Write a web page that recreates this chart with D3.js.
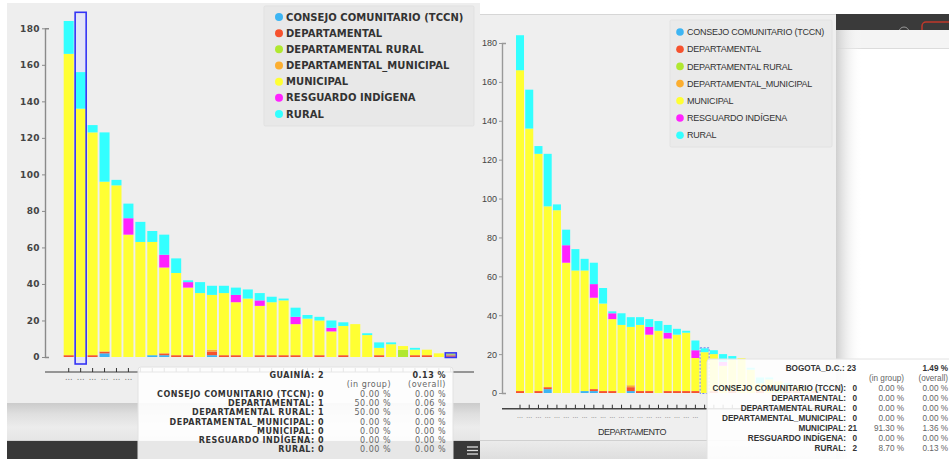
<!DOCTYPE html>
<html><head><meta charset="utf-8">
<script src="https://cdn.jsdelivr.net/npm/d3@7/dist/d3.min.js"></script>
<style>html,body{margin:0;padding:0;background:#fff;overflow:hidden}svg{display:block}</style>
</head><body>
<svg id="chart" width="949" height="459"></svg>
<script>
// ---------------- DATA ----------------
const categories = ["DEP_01","DEP_02","DEP_03","DEP_04","DEP_05","DEP_06","DEP_07","DEP_08","DEP_09","DEP_10",
  "DEP_11","DEP_12","DEP_13","DEP_14","DEP_15","DEP_16","DEP_17","DEP_18","DEP_19","DEP_20",
  "BOGOTA_D.C.","DEP_22","DEP_23","DEP_24","DEP_25","DEP_26","DEP_27","DEP_28","DEP_29","DEP_30",
  "DEP_31","DEP_32","GUAINÍA"];
const seriesNames = ["CONSEJO COMUNITARIO (TCCN)","DEPARTAMENTAL","DEPARTAMENTAL RURAL","DEPARTAMENTAL_MUNICIPAL","MUNICIPAL","RESGUARDO INDÍGENA","RURAL"];
const seriesColors = ["#3db5f3","#f6522e","#b0e830","#fcae30","#ffff33","#ff22ff","#33ffff"];
const tccn         = [0,0,0,2,0,0,0,1,1,0,0,0,1,0,0,0,0,0,0,0,0,0,0,0,0,0,0,0,0,0,0,0,0];
const departamental= [1,0,1,1,0,0,0,0,1,1,1,0,2,1,1,0,1,1,1,1,0,1,0,1,0,0,1,0,0,1,1,0,1];
const depRural     = [0,0,0,0,0,0,0,0,0,0,0,0,0,0,0,0,0,0,0,0,0,0,0,0,0,0,0,0,4,0,0,0,1];
const depMunicipal = [0,0,0,0,0,0,0,0,0,0,0,0,1,0,0,0,0,0,0,0,0,0,0,0,0,0,0,0,0,0,0,0,0];
const municipal    = [165,136,122,93,94,67,63,62,47,45,37,35,30,34,29,32,27,29,30,17,21,19,14,16,18,12,4,7,2,3,3,2,0];
const resguardo    = [0,0,0,0,0,9,0,0,7,0,3,0,0,0,4,0,3,0,0,4,0,0,2,0,0,0,0,0,0,0,0,0,0];
const rural        = [18,20,4,27,3,8,11,6,11,8,1,6,5,4,4,5,4,3,1,5,2,2,4,2,0,1,3,1,0,1,0,0,0];
const yTicks = [0,20,40,60,80,100,120,140,160,180];
const xTickLabel = "...";
const selectedColumn = "DEP_02";
const hoverLeft = "GUAINÍA";
const hoverRight = "BOGOTA_D.C.";

// ---------------- TABLE ----------------
const seriesValues = [tccn, departamental, depRural, depMunicipal, municipal, resguardo, rural];
const table = categories.map((c, i) => {
  const row = {cat: c};
  seriesNames.forEach((s, j) => row[s] = seriesValues[j][i]);
  row.total = seriesNames.reduce((a, s) => a + row[s], 0);
  return row;
});
const grandTotal = d3.sum(table, d => d.total);
const stacked = d3.stack().keys(seriesNames)(table);
const color = d3.scaleOrdinal().domain(seriesNames).range(seriesColors);
const pct = (v, t) => (t ? (v / t * 100) : 0).toFixed(2) + " %";

const W = 949, H = 459;
const svg = d3.select("#chart");
const defs = svg.append("defs");
function lg(id, x2, y2, stops) {
  const g = defs.append("linearGradient").attr("id", id).attr("x1", 0).attr("y1", 0).attr("x2", x2).attr("y2", y2);
  stops.forEach(([o, c, op]) => g.append("stop").attr("offset", o).attr("stop-color", c).attr("stop-opacity", op == null ? 1 : op));
}
lg("bandL", 0, 1, [[0, "#cbcbcb"], [0.3, "#dfdfdf"], [0.65, "#ececec"], [1, "#e6e6e6"]]);
lg("bandR", 0, 1, [[0, "#ececec"], [1, "#dedede"]]);
lg("shadow", 1, 0, [[0, "#cfcfcf", 1], [1, "#ffffff", 0]]);

// ---------------- BACKGROUND / WINDOW CHROME ----------------
svg.append("rect").attr("width", W).attr("height", H).attr("fill", "#fff");
svg.append("rect").attr("x", 836).attr("y", 14).attr("width", 113).attr("height", 16).attr("fill", "#3a3a3a");
svg.append("rect").attr("x", 922).attr("y", 22).attr("width", 40).attr("height", 14).attr("rx", 4)
  .attr("fill", "none").attr("stroke", "#c0392b").attr("stroke-width", 1.5);
svg.append("circle").attr("cx", 904).attr("cy", 32).attr("r", 5).attr("fill", "none").attr("stroke", "#999");
svg.append("rect").attr("x", 836).attr("y", 30).attr("width", 113).attr("height", 18).attr("fill", "#f4f4f4");
svg.append("line").attr("x1", 836).attr("x2", 949).attr("y1", 48.5).attr("y2", 48.5).attr("stroke", "#dcdcdc");
svg.append("rect").attr("x", 836).attr("y", 30).attr("width", 26).attr("height", 429).attr("fill", "url(#shadow)");

svg.append("rect").attr("x", 7).attr("y", 3).attr("width", 473).attr("height", 400).attr("fill", "#eeeeee");
svg.append("rect").attr("x", 7).attr("y", 403).attr("width", 473).attr("height", 37).attr("fill", "url(#bandL)");
svg.append("rect").attr("x", 7).attr("y", 440).attr("width", 473).attr("height", 19).attr("fill", "#383838");
svg.append("line").attr("x1", 7).attr("x2", 480).attr("y1", 440.5).attr("y2", 440.5).attr("stroke", "#d2d2d2");
[447, 450.5, 454].forEach(yy => svg.append("line").attr("x1", 467).attr("x2", 478).attr("y1", yy).attr("y2", yy)
  .attr("stroke", "#dddddd").attr("stroke-width", 1.3));

svg.append("rect").attr("x", 480).attr("y", 14).attr("width", 356).attr("height", 426).attr("fill", "#efefef");
svg.append("line").attr("x1", 480).attr("x2", 836).attr("y1", 14.5).attr("y2", 14.5).attr("stroke", "#d6d6d6");
svg.append("rect").attr("x", 480).attr("y", 440).attr("width", 356).attr("height", 19).attr("fill", "url(#bandR)");
svg.append("line").attr("x1", 480).attr("x2", 836).attr("y1", 440.5).attr("y2", 440.5).attr("stroke", "#d0d0d0");

// ---------------- CHART ----------------
function drawChart(cfg) {
  const g = svg.append("g");
  const x = d3.scaleBand().domain(categories).range(cfg.xRange).paddingInner(cfg.padInner).paddingOuter(0);
  const y = d3.scaleLinear().domain([0, d3.max(yTicks)]).range(cfg.yRange);

  if (cfg.column) {
    g.append("rect").attr("x", x(cfg.column) - 0.5).attr("width", x.bandwidth() + 1)
      .attr("y", cfg.colTop).attr("height", y(0) + 7 - cfg.colTop).attr("fill", "#e4e4f7");
  }

  g.append("g").selectAll("g").data(stacked).join("g").attr("fill", d => color(d.key))
    .selectAll("rect").data(d => d.filter(p => p[1] - p[0] > 0)).join("rect")
    .attr("x", d => x(d.data.cat)).attr("width", x.bandwidth())
    .attr("y", d => y(d[1])).attr("height", d => y(d[0]) - y(d[1]));

  if (cfg.column) {
    g.append("rect").attr("x", x(cfg.column) - 0.5).attr("width", x.bandwidth() + 1)
      .attr("y", cfg.colTop).attr("height", y(0) + 7 - cfg.colTop)
      .attr("fill", "none").attr("stroke", "#3434f5").attr("stroke-width", 1.6);
  }
  if (cfg.hover) {
    const row = table.find(r => r.cat === cfg.hover);
    const hr = g.append("rect").attr("x", x(cfg.hover) - 0.5).attr("width", x.bandwidth() + 1)
      .attr("y", y(row.total) - 0.5).attr("height", y(0) - y(row.total) + 1)
      .attr("fill", cfg.hoverFill).attr("fill-opacity", cfg.hoverFillOpacity)
      .attr("stroke", cfg.hoverStroke).attr("stroke-width", cfg.hoverWidth);
    if (cfg.hoverDash) hr.attr("stroke-dasharray", cfg.hoverDash);
  }

  // y axis
  const ya = g.append("g").attr("transform", `translate(${cfg.yAxisX},0)`)
    .call(d3.axisLeft(y).tickValues(yTicks).tickSizeInner(3).tickSizeOuter(-4).tickPadding(2));
  ya.select(".domain").attr("stroke", cfg.yAxisColor).attr("stroke-width", 1.4);
  ya.selectAll(".tick line").attr("stroke", cfg.yAxisColor);
  ya.selectAll(".tick text").attr("font-family", cfg.font).attr("font-size", cfg.yFontSize)
    .attr("font-weight", cfg.yFontWeight).attr("fill", "#444").attr("letter-spacing", cfg.yLetter);

  // x axis
  g.append("line").attr("x1", cfg.xLine[0]).attr("x2", cfg.xLine[1]).attr("y1", cfg.xAxisY).attr("y2", cfg.xAxisY)
    .attr("stroke", cfg.xLineColor).attr("stroke-width", 1.4);
  const xa = g.append("g").attr("transform", `translate(0,${cfg.xAxisY})`)
    .call(d3.axisBottom(x).tickSize(-4).tickPadding(cfg.xPad).tickFormat(() => xTickLabel));
  xa.select(".domain").remove();
  xa.selectAll(".tick line").attr("stroke", "#333");
  xa.selectAll(".tick text").attr("font-family", cfg.font).attr("font-size", cfg.xFontSize).attr("fill", "#777");
  // labels hidden behind the tooltip box are not drawn (they are occluded in the screenshot)
  if (cfg.hideFrom != null) {
    xa.selectAll(".tick").filter(d => x(d) + x.bandwidth() / 2 > cfg.hideFrom).select("text").remove();
  }

  if (cfg.xTitle) {
    g.append("text").attr("x", cfg.xTitle.x).attr("y", cfg.xTitle.y).attr("text-anchor", "middle")
      .attr("font-family", cfg.font).attr("font-size", 9).attr("letter-spacing", -0.45).attr("fill", "#333")
      .text(cfg.xTitle.text);
  }
  return g;
}

function drawLegend(cfg) {
  const g = svg.append("g");
  g.append("rect").attr("x", cfg.box[0]).attr("y", cfg.box[1]).attr("width", cfg.box[2]).attr("height", cfg.box[3])
    .attr("fill", cfg.fill).attr("stroke", cfg.stroke).attr("rx", 1.5);
  seriesNames.forEach((s, i) => {
    const cy = cfg.y0 + i * cfg.dy;
    g.append("circle").attr("cx", cfg.cx).attr("cy", cy).attr("r", cfg.r).attr("fill", color(s));
    g.append("text").attr("x", cfg.tx).attr("y", cy).attr("dy", "0.36em")
      .attr("font-family", cfg.font).attr("font-size", cfg.size).attr("font-weight", cfg.weight)
      .attr("letter-spacing", cfg.letter).attr("fill", "#333").text(s);
  });
}

function drawTooltip(cfg) {
  const row = table.find(r => r.cat === cfg.cat);
  const g = svg.append("g");
  g.append("rect").attr("x", cfg.box[0]).attr("y", cfg.box[1]).attr("width", cfg.box[2]).attr("height", cfg.box[3])
    .attr("rx", 3).attr("fill", "#ffffff").attr("fill-opacity", cfg.opacity).attr("stroke", "#e2e2e2");
  const t = (xx, yy, txt, bold, col) => g.append("text").attr("x", xx).attr("y", yy).attr("text-anchor", "end")
    .attr("font-family", cfg.font).attr("font-size", cfg.size).attr("letter-spacing", cfg.letter)
    .attr("font-weight", bold ? "bold" : "normal").attr("fill", col).text(txt);
  t(cfg.headerX, cfg.headerY, `${row.cat}: ${row.total}`, true, "#333");
  t(cfg.colOverall, cfg.headerY, pct(row.total, grandTotal), true, "#333");
  t(cfg.colGroup, cfg.subY, "(in group)", false, "#666");
  t(cfg.colOverall, cfg.subY, "(overall)", false, "#666");
  seriesNames.forEach((s, i) => {
    const yy = cfg.row0 + i * cfg.rowDy;
    if (cfg.valueX) {
      t(cfg.labelX, yy, `${s}:`, true, "#333");
      t(cfg.valueX, yy, `${row[s]}`, true, "#333");
    } else {
      t(cfg.labelX, yy, `${s}: ${row[s]}`, true, "#333");
    }
    t(cfg.colGroup, yy, pct(row[s], row.total), false, "#666");
    t(cfg.colOverall, yy, pct(row[s], grandTotal), false, "#666");
  });
}

// Left chart
drawChart({
  xRange: [63.7, 455.8], padInner: 0.16, yRange: [357, 28.3], yAxisX: 45,
  xLine: [45, 474], xAxisY: 372, xPad: 2.3, xFontSize: 8, hideFrom: 136,
  font: "DejaVu Sans", yFontSize: 9, yFontWeight: "bold", yLetter: 0.4, yAxisColor: "#8a8a8a", xLineColor: "#777",
  column: selectedColumn, colTop: 12.3,
  hover: hoverLeft, hoverFill: "#9a9aff", hoverFillOpacity: 0.35, hoverStroke: "#3434f5", hoverWidth: 1.5
});
drawLegend({box: [264, 6, 210, 120], fill: "#e8e8e8", stroke: "#e1e1e1", cx: 279, tx: 286, y0: 17, dy: 16.17, r: 4,
  font: "DejaVu Sans", size: 10, weight: "bold", letter: 0.05});

// Right chart
drawChart({
  xRange: [516, 819.4], padInner: 0.133, yRange: [393, 43], yAxisX: 502,
  xLine: [502, 830], xAxisY: 408.7, xPad: 4, xFontSize: 7, hideFrom: 704,
  font: "Liberation Sans", yFontSize: 9, yFontWeight: "normal", yLetter: 0, yAxisColor: "#999", xLineColor: "#444",
  hover: hoverRight, hoverFill: "none", hoverFillOpacity: 0, hoverStroke: "#7088ee", hoverWidth: 1, hoverDash: "2,1.5",
  xTitle: {x: 632, y: 435, text: "DEPARTAMENTO"}
});
drawLegend({box: [670, 20, 162, 127], fill: "#eaeaea", stroke: "#e2e2e2", cx: 680, tx: 687, y0: 32, dy: 17.2, r: 3.8,
  font: "Liberation Sans", size: 9, weight: "normal", letter: -0.22});

// Tooltips
drawTooltip({cat: hoverLeft, box: [138, 367, 315, 100], opacity: 0.88, font: "DejaVu Sans", size: 8, letter: 0.5,
  headerX: 324, headerY: 378, subY: 387.3, row0: 397, rowDy: 9.2, labelX: 324, colGroup: 391, colOverall: 446});
drawTooltip({cat: hoverRight, box: [707, 359, 250, 110], opacity: 0.88, font: "Liberation Sans", size: 8.2, letter: 0,
  headerX: 856, headerY: 371, subY: 381, row0: 391, rowDy: 10, labelX: 846, valueX: 857, colGroup: 904, colOverall: 948});
</script>
</body></html>
